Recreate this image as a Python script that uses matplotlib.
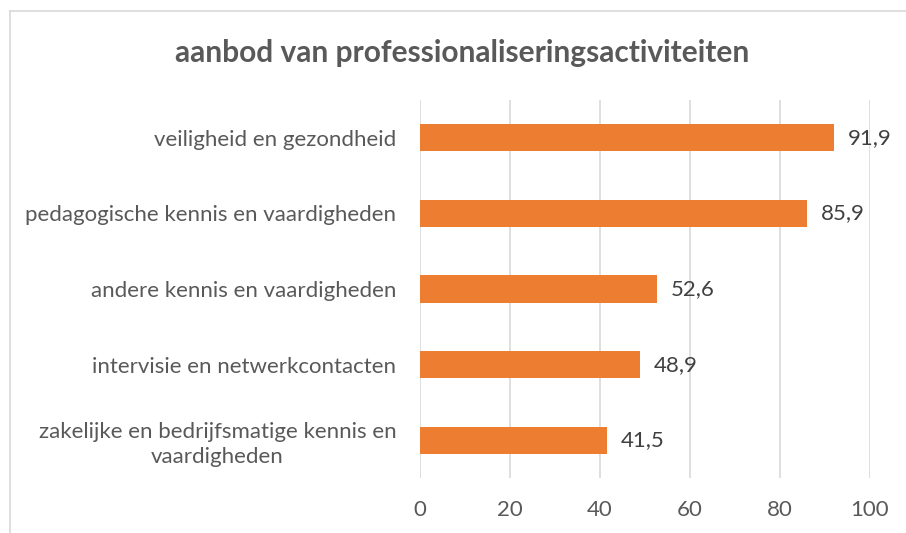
import matplotlib
matplotlib.use("Agg")
import matplotlib.pyplot as plt
from matplotlib.lines import Line2D

categories = [
    "veiligheid en gezondheid",
    "pedagogische kennis en vaardigheden",
    "andere kennis en vaardigheden",
    "intervisie en netwerkcontacten",
    "zakelijke en bedrijfsmatige kennis en\nvaardigheden",
]
values = [91.9, 85.9, 52.6, 48.9, 41.5]
value_labels = ["91,9", "85,9", "52,6", "48,9", "41,5"]
xticks = [0, 20, 40, 60, 80, 100]
title = "aanbod van professionaliseringsactiviteiten"

plt.rcParams['font.family'] = ['Lato', 'DejaVu Sans']

W, H = 906, 533
fig = plt.figure(figsize=(W / 100, H / 100), dpi=100)
fig.patch.set_facecolor("white")

ax = fig.add_axes([420 / W, 1 - 478 / H, 450 / W, 378 / H])
pos = list(range(len(categories)))[::-1]
ax.barh(pos, values, height=0.36, color="#ED7D31", zorder=3)
ax.set_xlim(0, 100)
ax.set_ylim(-0.5, len(categories) - 0.5)
ax.set_xticks(xticks)
ax.set_xticklabels([str(t) for t in xticks])
ax.set_yticks(pos)
ax.set_yticklabels(categories, multialignment="center", linespacing=1.3)
ax.tick_params(axis="both", length=0, labelsize=16, colors="#595959")
ax.tick_params(axis="x", pad=16)
ax.tick_params(axis="y", pad=17)
ax.grid(axis="x", color="#D9D9D9", linewidth=1.2, zorder=0)
for s in ax.spines.values():
    s.set_visible(False)

for p, v, lab in zip(pos, values, value_labels):
    ax.annotate(lab, (v, p), xytext=(10, 0), textcoords="offset points",
                va="center", ha="left", fontsize=16, color="#404040")

fig.text(462 / W, 1 - 53 / H, title, ha="center", va="center",
         fontsize=21.5, fontweight="bold", color="#595959")

# chart frame (cropped at right and bottom)
fig.add_artist(Line2D([9.5 / W, 9.5 / W], [0, 1 - 10.5 / H], transform=fig.transFigure,
                      color="#D9D9D9", linewidth=1.2))
fig.add_artist(Line2D([9.5 / W, 1], [1 - 10.5 / H, 1 - 10.5 / H], transform=fig.transFigure,
                      color="#D9D9D9", linewidth=1.2))

fig.savefig("out.png", dpi=100, facecolor="white")
